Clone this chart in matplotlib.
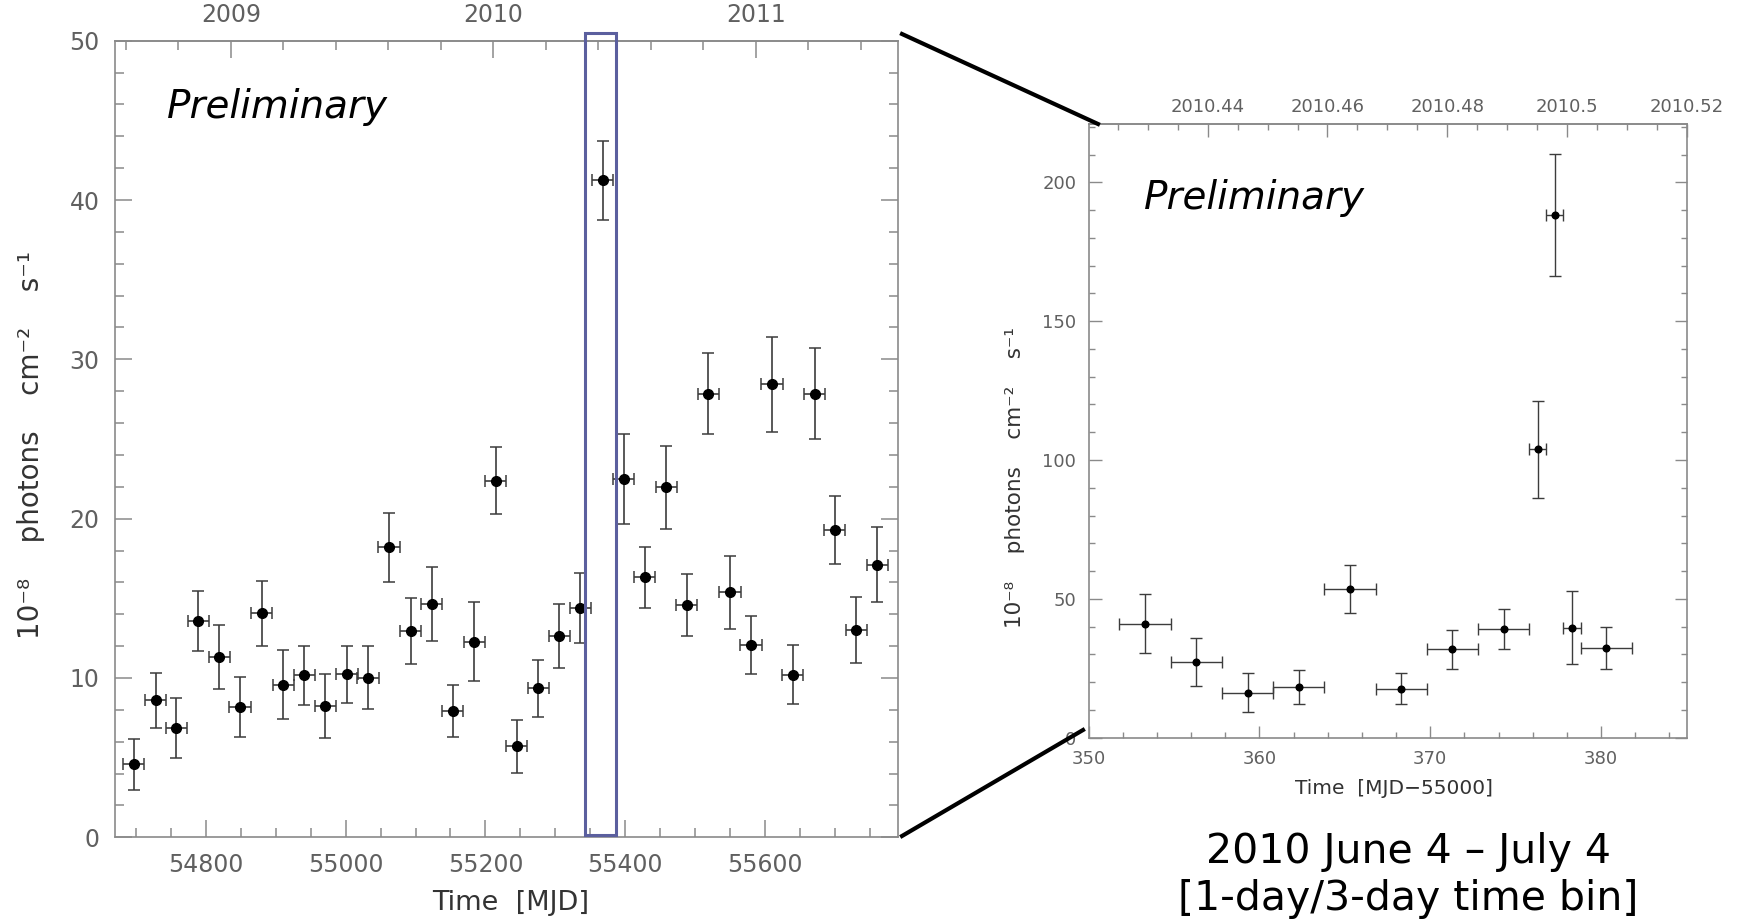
import matplotlib
matplotlib.use('Agg')
import matplotlib.pyplot as plt
from matplotlib.ticker import MultipleLocator, FormatStrFormatter, FixedLocator
from matplotlib.patches import Rectangle
from matplotlib.lines import Line2D

# ---------------- data: monthly light curve (left) ----------------
mjd = [54697, 54728, 54758, 54789, 54819, 54849, 54880, 54911, 54941, 54971,
       55002, 55032, 55062, 55093, 55123, 55153, 55184, 55215, 55245, 55276,
       55306, 55336, 55368, 55398, 55428, 55459, 55488, 55519, 55550, 55580,
       55610, 55640, 55671, 55700, 55731, 55761]
flux = [4.58, 8.61, 6.85, 13.58, 11.33, 8.17, 14.06, 9.59, 10.16, 8.25,
        10.24, 10.03, 18.20, 12.96, 14.65, 7.94, 12.27, 22.38, 5.71, 9.34,
        12.62, 14.38, 41.24, 22.49, 16.31, 21.97, 14.57, 27.85, 15.38, 12.06,
        28.44, 10.21, 27.85, 19.30, 13.02, 17.12]
flux_err = [1.6, 1.73, 1.89, 1.87, 2.02, 1.87, 2.05, 2.17, 1.84, 2.03,
            1.78, 1.95, 2.18, 2.09, 2.33, 1.62, 2.48, 2.1, 1.68, 1.77,
            2.02, 2.21, 2.47, 2.8, 1.93, 2.6, 1.93, 2.52, 2.3, 1.8,
            2.98, 1.85, 2.88, 2.12, 2.09, 2.38]
mjd_halfbin = [15.2] * len(mjd)

# ---------------- data: zoomed flare (right) ----------------
t_zoom = [353.3, 356.3, 359.3, 362.3, 365.3, 368.3, 371.3, 374.3,
          376.3, 377.3, 378.3, 380.3]
f_zoom = [41.1, 27.2, 16.2, 18.1, 53.6, 17.7, 31.8, 39.3,
          103.8, 188.2, 39.6, 32.4]
f_zoom_err = [10.6, 8.7, 7.0, 6.1, 8.6, 5.6, 6.9, 7.2,
              17.5, 22.0, 13.1, 7.5]
t_zoom_halfbin = [1.5, 1.5, 1.5, 1.5, 1.5, 1.5, 1.5, 1.5,
                  0.5, 0.5, 0.5, 1.5]

left_year_ticks = [2009, 2010, 2011]
right_year_ticks = [2010.44, 2010.46, 2010.48, 2010.50, 2010.52]
highlight_window = (55342, 55386.6)

# ---------------- figure ----------------
W, H = 1741, 923
fig = plt.figure(figsize=(W / 100, H / 100), dpi=100)


def px_rect(x0, y0, x1, y1):
    return [x0 / W, 1 - y1 / H, (x1 - x0) / W, (y1 - y0) / H]


SPINE = '#8a8a8a'
TLAB = '#606060'
ALAB = '#333333'

axL = fig.add_axes(px_rect(115, 40.7, 897.7, 837.3))
axR = fig.add_axes(px_rect(1088.7, 124, 1687.3, 737.7))

axL.errorbar(mjd, flux, yerr=flux_err, xerr=mjd_halfbin, fmt='o', color='black',
             ms=7, ecolor='#3c3c3c', elinewidth=1.2, capsize=4, capthick=1.1,
             zorder=3)
axR.errorbar(t_zoom, f_zoom, yerr=f_zoom_err, xerr=t_zoom_halfbin, fmt='o',
             color='black', ms=4.8, ecolor='#3c3c3c', elinewidth=1.0,
             capsize=4.5, capthick=1.0, zorder=3)

axL.set_xlim(54670, 55790)
axL.set_ylim(0, 50)
axR.set_xlim(350, 385.05)
axR.set_ylim(0, 221)

for ax in (axL, axR):
    for s in ax.spines.values():
        s.set_color(SPINE)
        s.set_linewidth(1.2)

# left axes ticks
axL.xaxis.set_major_locator(MultipleLocator(200))
axL.xaxis.set_minor_locator(MultipleLocator(50))
axL.xaxis.set_major_formatter(FormatStrFormatter('%d'))
axL.yaxis.set_major_locator(MultipleLocator(10))
axL.yaxis.set_minor_locator(MultipleLocator(2))
axL.yaxis.set_major_formatter(FormatStrFormatter('%d'))
axL.tick_params(which='both', direction='in', color=SPINE, width=1.1,
                labelcolor=TLAB, labelsize=17, top=False, right=True)
axL.tick_params(which='major', length=12, pad=11)
axL.tick_params(which='minor', length=6.5)

# right axes ticks
axR.xaxis.set_major_locator(MultipleLocator(10))
axR.xaxis.set_minor_locator(MultipleLocator(2))
axR.xaxis.set_major_formatter(FormatStrFormatter('%d'))
axR.yaxis.set_major_locator(MultipleLocator(50))
axR.yaxis.set_minor_locator(MultipleLocator(10))
axR.yaxis.set_major_formatter(FormatStrFormatter('%d'))
axR.tick_params(which='both', direction='in', color=SPINE, width=1.0,
                labelcolor=TLAB, labelsize=13, top=False, right=True)
axR.tick_params(which='major', length=9, pad=9)
axR.tick_params(which='minor', length=4.5)

# top (year) axes
YL0, YL_DAYS = 54835.8, 375.6


def mjd2yr(x):
    return 2009 + (x - YL0) / YL_DAYS


def yr2mjd(y):
    return YL0 + (y - 2009) * YL_DAYS


secL = axL.secondary_xaxis('top', functions=(mjd2yr, yr2mjd))
secL.xaxis.set_major_locator(FixedLocator(left_year_ticks))
secL.xaxis.set_minor_locator(MultipleLocator(0.2))
secL.xaxis.set_major_formatter(FormatStrFormatter('%d'))
secL.tick_params(which='both', direction='in', color=SPINE, width=1.1,
                 labelcolor=TLAB, labelsize=17)
secL.tick_params(which='major', length=12, pad=10)
secL.tick_params(which='minor', length=6.5)
secL.spines['top'].set_color(SPINE)
secL.spines['top'].set_linewidth(1.2)

YR0, YR_SCALE = 2010.4201, 0.1 / 35.04


def t2yr(x):
    return YR0 + (x - 350) * YR_SCALE


def yr2t(y):
    return 350 + (y - YR0) / YR_SCALE


secR = axR.secondary_xaxis('top', functions=(t2yr, yr2t))
secR.xaxis.set_major_locator(FixedLocator(right_year_ticks))
secR.xaxis.set_minor_locator(MultipleLocator(0.005))
secR.xaxis.set_major_formatter(FormatStrFormatter('%g'))
secR.tick_params(which='both', direction='in', color=SPINE, width=1.0,
                 labelcolor=TLAB, labelsize=13)
secR.tick_params(which='major', length=9, pad=6)
secR.tick_params(which='minor', length=4.5)
secR.spines['top'].set_color(SPINE)
secR.spines['top'].set_linewidth(1.2)

# highlight box on the left panel
axL.add_patch(Rectangle((highlight_window[0], 0.14),
                        highlight_window[1] - highlight_window[0], 50.32,
                        fill=False, edgecolor='#5b5f9e', lw=2.2,
                        clip_on=False, zorder=5))

# axis labels
ylab = '10\u207b\u2078    photons    cm\u207b\u00b2    s\u207b\u00b9'
fig.text(511 / W, 1 - 903 / H, 'Time  [MJD]', ha='center', va='center',
         fontsize=19.5, color=ALAB)
fig.text(31 / W, 1 - 445 / H, ylab,
         rotation=90, ha='center', va='center', fontsize=20, color=ALAB)
fig.text(1394 / W, 1 - 789 / H, 'Time  [MJD\u221255000]', ha='center', va='center',
         fontsize=14.5, color=ALAB)
fig.text(1015 / W, 1 - 478 / H, ylab,
         rotation=90, ha='center', va='center', fontsize=15.5, color=ALAB)

# "Preliminary" stamps
fig.text(167 / W, 1 - 118 / H, 'Preliminary', ha='left', va='baseline',
         fontsize=28, style='italic', color='black')
fig.text(1144 / W, 1 - 209 / H, 'Preliminary', ha='left', va='baseline',
         fontsize=28, style='italic', color='black')

# caption
fig.text(1408 / W, 1 - 863 / H, '2010 June 4 \u2013 July 4', ha='center',
         va='baseline', fontsize=29.5, color='black')
fig.text(1408 / W, 1 - 910 / H, '[1-day/3-day time bin]', ha='center',
         va='baseline', fontsize=29.5, color='black')

# connector lines
fig.add_artist(Line2D([902 / W, 1098 / W], [1 - 34 / H, 1 - 124 / H],
                      color='black', lw=3, transform=fig.transFigure))
fig.add_artist(Line2D([902 / W, 1083 / W], [1 - 836 / H, 1 - 730 / H],
                      color='black', lw=3, transform=fig.transFigure))

fig.savefig('out.png', dpi=100)
